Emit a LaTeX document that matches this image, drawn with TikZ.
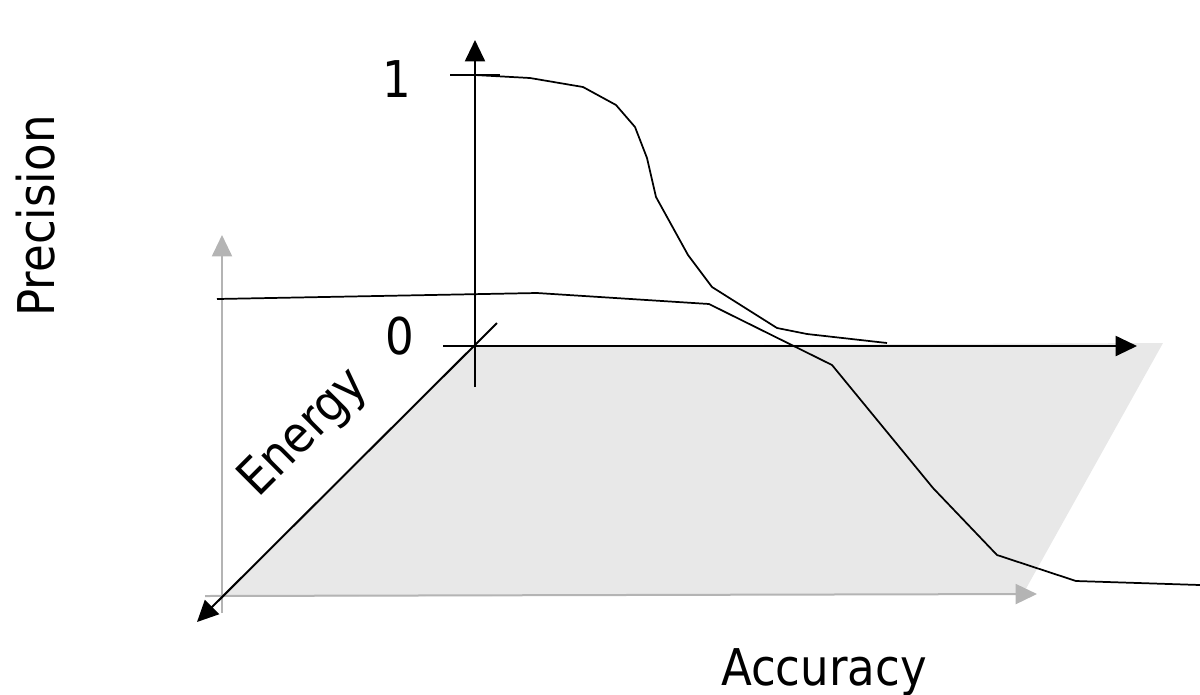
\documentclass[tikz,border=0pt]{standalone}
\usepackage{fontspec}
\setmainfont{DejaVu Sans}[FakeStretch=0.89]
\usetikzlibrary{arrows.meta}
\definecolor{planeGray}{RGB}{232,232,232}
\definecolor{axisGray}{RGB}{180,180,180}

\begin{document}
\begin{tikzpicture}[x=0.75pt,y=-0.75pt,
    axis/.style={line width=1.5pt,-{Triangle[length=16pt,width=15pt]}},
    backaxis/.style={axis,axisGray},
    curve/.style={line width=1.3pt,line join=round},
    lbl/.style={inner sep=0pt,font=\fontsize{38}{40}\selectfont}]
    \useasboundingbox (0,0) rectangle (1200,694);
    % shaded plane
    \fill[planeGray] (222,597) -- (475,346) -- (1163,343) -- (1023,594) -- cycle;
    % grey back axes
    \coordinate (bo) at (222,613);
    \coordinate (bu) at (222,235);
    \coordinate (bl) at (205,596);
    \coordinate (br) at (1037,594);
    \draw[backaxis] (bo) -- (bu);
    \draw[backaxis] (bl) -- (br);
    % front axes
    \coordinate (vlow) at (475,387);
    \coordinate (vtop) at (475,40);
    \coordinate (hleft) at (443,346);
    \coordinate (hright) at (1137,346);
    \coordinate (eback) at (497,323);
    \coordinate (efront) at (197,622);
    \draw[axis] (vlow) -- (vtop);
    \draw[axis] (hleft) -- (hright);
    \draw[axis] (eback) -- (efront);
    \draw[line width=1.3pt] (450,75) -- (500,75);
    % curves
    \draw[curve] (475,75) -- (530,78) -- (583,87) -- (616,105) -- (635,127)
      -- (647,158) -- (656,197) -- (688,255) -- (712,287) -- (777,328)
      -- (807,334) -- (887,343);
    \draw[curve] (217,299) -- (537,293) -- (709,304) -- (832,365) -- (933,488)
      -- (997,555) -- (1076,581) -- (1200,585);
    % labels
    \node[lbl] (one) at (397,79) {1};
    \node[lbl] (zero) at (400,336) {0};
    \node[lbl,rotate=90] (prec) at (36,216) {Precision};
    \node[lbl,anchor=base] (acc) at (824,685) {Accuracy};
    \node[lbl,anchor=base,rotate=45] (energy) at (314,443) {Energy};
\end{tikzpicture}
\end{document}
